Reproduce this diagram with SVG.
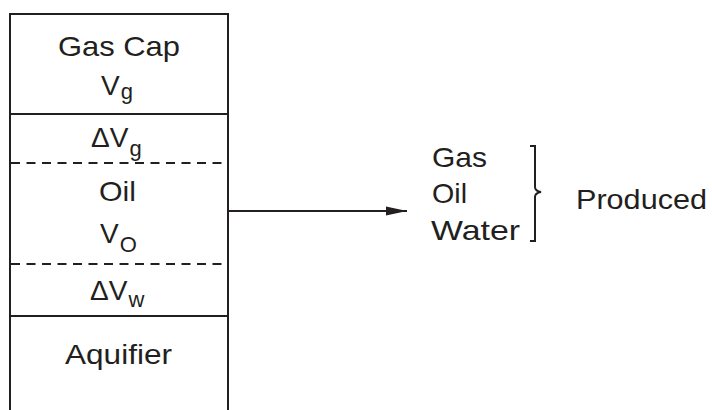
<svg xmlns="http://www.w3.org/2000/svg" width="712" height="410" viewBox="0 0 712 410">
  <style>
    .ln { stroke: #231f20; stroke-width: 2; fill: none; }
    .dash { stroke: #231f20; stroke-width: 2; fill: none; stroke-dasharray: 9 6.5; }
    .t { font-family: "Liberation Sans", Arial, Helvetica, sans-serif; font-size: 28px; fill: #231f20; }
    .sub { font-size: 22px; }
  </style>
  <defs>
    <marker id="arrow" markerWidth="21" markerHeight="10" refX="21" refY="5" orient="auto" markerUnits="userSpaceOnUse">
      <path d="M0,0.5 L21,5 L0,9.5 Z" fill="#231f20"/>
    </marker>
  </defs>

  <!-- reservoir column -->
  <g id="reservoir">
    <path class="ln" d="M10,410 V14 H228 V410"/>
    <line class="ln" x1="10" y1="114" x2="228" y2="114"/>
    <line class="ln" x1="10" y1="316" x2="228" y2="316"/>
    <line class="dash" x1="11" y1="163" x2="227" y2="163"/>
    <line class="dash" x1="11" y1="264" x2="227" y2="264"/>
  </g>

  <g id="gas-cap">
    <text class="t" x="58" y="56" textLength="122" lengthAdjust="spacingAndGlyphs">Gas Cap</text>
    <text class="t" x="101" y="95">V<tspan class="sub" dx="1" dy="4">g</tspan></text>
  </g>

  <g id="delta-vg">
    <text class="t" x="91" y="147">ΔV<tspan class="sub" dx="1" dy="9">g</tspan></text>
  </g>

  <g id="oil-zone">
    <text class="t" x="99" y="201" textLength="37" lengthAdjust="spacingAndGlyphs">Oil</text>
    <text class="t" x="100" y="243">V<tspan class="sub" dx="1" dy="8.5">O</tspan></text>
  </g>

  <g id="delta-vw">
    <text class="t" x="90" y="300">ΔV<tspan class="sub" dx="1" dy="7">w</tspan></text>
  </g>

  <g id="aquifer">
    <text class="t" x="65" y="364" textLength="107" lengthAdjust="spacingAndGlyphs">Aquifier</text>
  </g>

  <!-- production stream -->
  <g id="connectors">
    <line class="ln" x1="228" y1="211" x2="407" y2="211" marker-end="url(#arrow)"/>
  </g>

  <g id="produced">
    <text class="t" x="432" y="167" textLength="55" lengthAdjust="spacingAndGlyphs">Gas</text>
    <text class="t" x="432" y="203" textLength="35" lengthAdjust="spacingAndGlyphs">Oil</text>
    <text class="t" x="431" y="240" textLength="89" lengthAdjust="spacingAndGlyphs">Water</text>
    <path class="ln" d="M530,146 H535 V187 Q535,191 541,192 Q535,193 535,197 V241 H530"/>
    <text class="t" x="576" y="209" textLength="131" lengthAdjust="spacingAndGlyphs">Produced</text>
  </g>
</svg>
